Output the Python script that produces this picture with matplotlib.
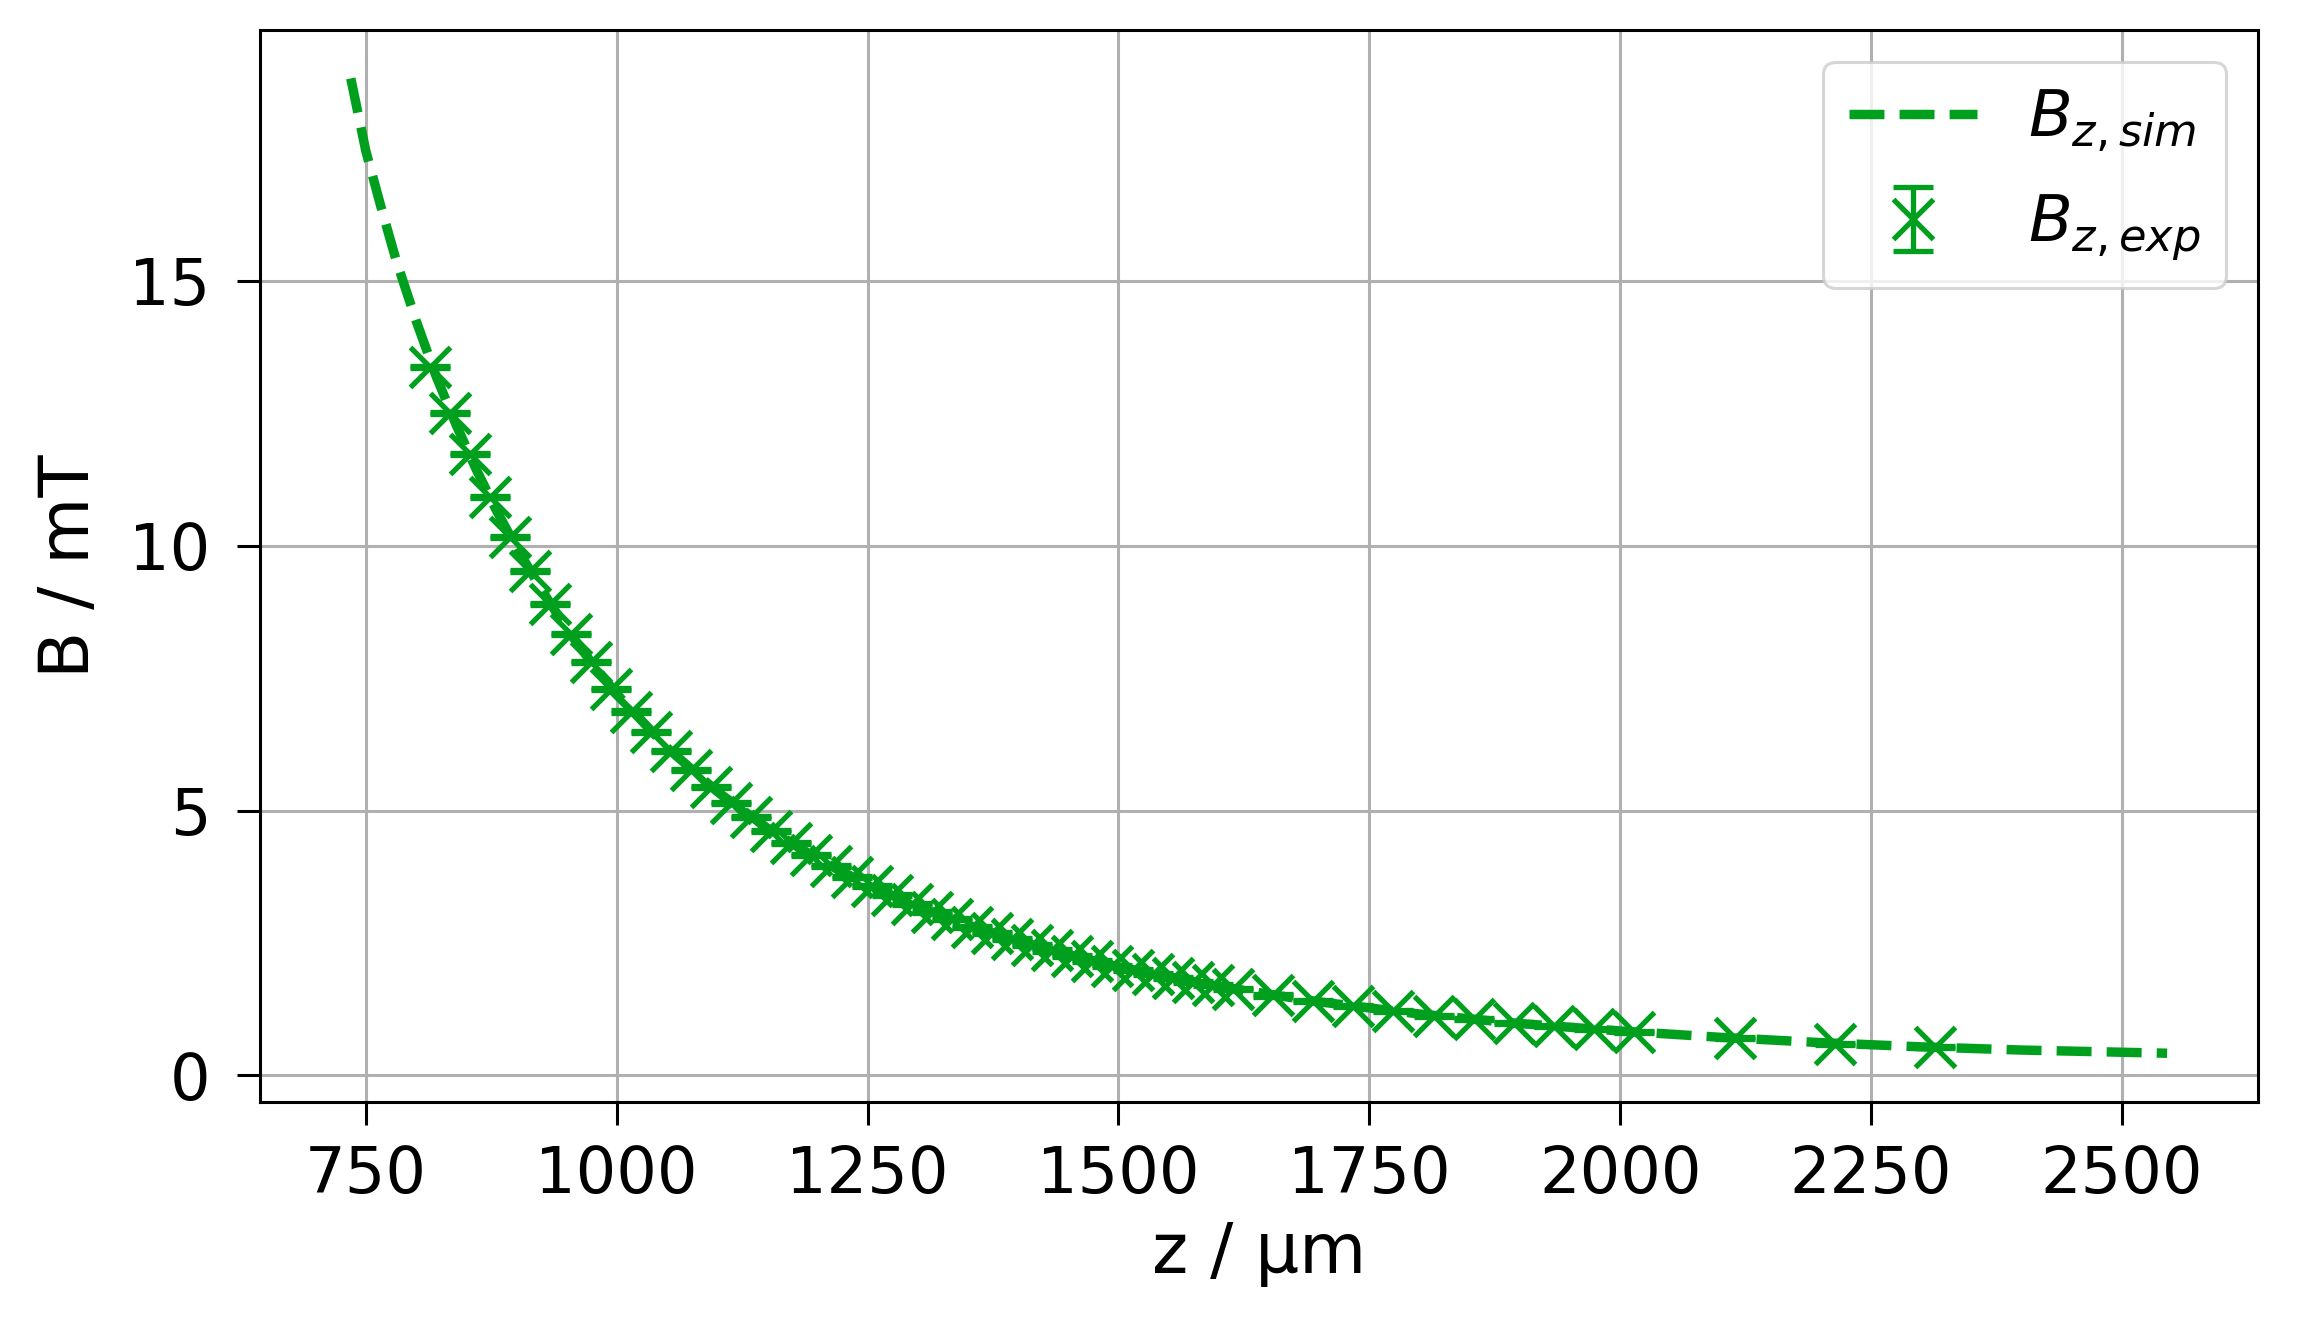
import matplotlib
matplotlib.use("Agg")
import matplotlib.pyplot as plt

# ---------------- data ----------------
z_sim = [735, 750, 765, 780, 800, 820, 840, 860, 880, 900, 925, 950, 975,
         1000, 1050, 1100, 1150, 1200, 1250, 1300, 1350, 1400, 1450, 1500,
         1600, 1700, 1800, 1900, 2000, 2100, 2200, 2300, 2400, 2545]
b_sim = [18.82, 17.45, 16.40, 15.40, 14.25, 13.20, 12.28, 11.44, 10.67, 9.97,
         9.17, 8.44, 7.79, 7.20, 6.19, 5.36, 4.67, 4.09, 3.60, 3.19, 2.84,
         2.54, 2.28, 2.05, 1.68, 1.39, 1.16, 0.98, 0.84, 0.72, 0.62, 0.54,
         0.48, 0.42]

z_exp = [814, 834, 854, 874, 894, 914, 934, 954, 974, 994,
         1014, 1034, 1054, 1074, 1094, 1114, 1134, 1154, 1174, 1194,
         1214, 1234, 1254, 1274, 1294, 1314, 1334, 1354, 1374, 1394,
         1414, 1434, 1454, 1474, 1494, 1514, 1534, 1554, 1574, 1594,
         1614, 1654, 1694, 1734, 1774, 1814, 1854, 1894, 1934, 1974,
         2014, 2114, 2214, 2314]
b_exp = [13.38, 12.50, 11.73, 10.92, 10.17, 9.52, 8.90, 8.33, 7.80, 7.30,
         6.87, 6.49, 6.12, 5.77, 5.45, 5.15, 4.88, 4.62, 4.38, 4.16,
         3.95, 3.75, 3.57, 3.40, 3.24, 3.09, 2.95, 2.81, 2.69, 2.57,
         2.46, 2.36, 2.26, 2.16, 2.07, 1.99, 1.91, 1.84, 1.76, 1.70,
         1.63, 1.51, 1.40, 1.31, 1.22, 1.13, 1.06, 0.99, 0.93, 0.87,
         0.82, 0.70, 0.60, 0.53]
b_err = 0.02

x_ticks = [750, 1000, 1250, 1500, 1750, 2000, 2250, 2500]
y_ticks = [0, 5, 10, 15]
x_label = "z / µm"
y_label = "B / mT"
lab_sim = r"$B_{z,sim}$"
lab_exp = r"$B_{z,exp}$"

# ---------------- style ----------------
GREEN = "#00a01e"
DPI = 200
plt.rcParams["font.family"] = ["DejaVu Sans"]
plt.rcParams["mathtext.fontset"] = "dejavusans"

TICK_FS = 23.0
LAB_FS = 24.8

fig = plt.figure(figsize=(2317 / DPI, 1324 / DPI), dpi=DPI)
ax = fig.add_axes([0.1122, 0.1677, 0.8623, 0.8099])

ax.plot(z_sim, b_sim, "--", color=GREEN, lw=3.4, label=lab_sim, zorder=3)
ax.errorbar(z_exp, b_exp, yerr=b_err, fmt="x", color=GREEN, ms=14.5, mew=1.9,
            elinewidth=1.9, capsize=7.2, capthick=1.9, label=lab_exp, zorder=2.5)

ax.set_xticks(x_ticks)
ax.set_yticks(y_ticks)
ax.grid(True, color="#b0b0b0", lw=1.1)
ax.set_axisbelow(True)

for s in ax.spines.values():
    s.set_linewidth(1.1)
    s.set_color("black")

ax.tick_params(axis="both", which="major", length=8.3, width=1.1,
               color="black", labelsize=TICK_FS)
ax.tick_params(axis="x", pad=7)
ax.tick_params(axis="y", pad=9.5)

ax.set_xlabel(x_label, fontsize=LAB_FS, labelpad=5)
ax.set_ylabel(y_label, fontsize=LAB_FS, labelpad=9.5)

leg = ax.legend(loc="upper right", fontsize=TICK_FS, framealpha=0.8,
                edgecolor="0.8", fancybox=True, labelspacing=0.6)
leg.get_frame().set_linewidth(1.1)

fig.savefig("out.png", dpi=DPI)
